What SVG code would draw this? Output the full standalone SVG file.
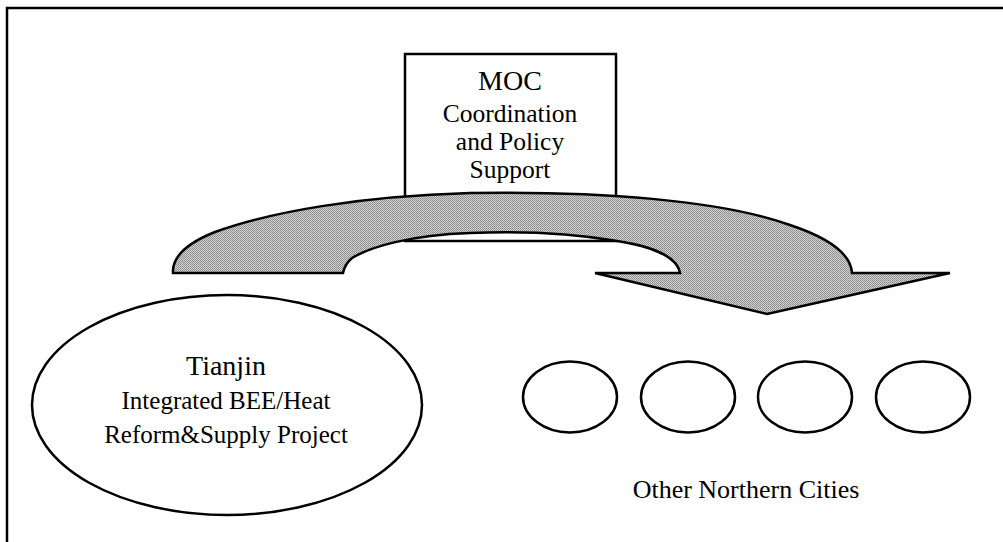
<svg xmlns="http://www.w3.org/2000/svg" width="1003" height="542" viewBox="0 0 1003 542">
<defs>
<pattern id="dither" patternUnits="userSpaceOnUse" width="2" height="2">
<rect width="2" height="2" fill="#cfcfcf"/>
<rect x="0" y="0" width="1" height="1" fill="#8a8a8a"/>
<rect x="1" y="1" width="1" height="1" fill="#9a9a9a"/>
</pattern>
<style>
.ln{fill:none;stroke:#000;stroke-width:2.5}
.nd{fill:#fff;stroke:#000;stroke-width:2.5}
.t{fill:#000;text-anchor:middle}
</style>
</defs>
<rect x="0" y="0" width="1003" height="542" fill="#fff"/>
<path id="frame" class="ln" d="M7,542 L7,8 L1003,8" stroke-width="3"/>
<g font-family="'Liberation Serif', 'Times New Roman', serif">
<g id="moc">
<rect class="nd" x="405" y="54" width="211" height="187"/>
<text class="t" x="510" y="90" font-size="28">MOC</text>
<text class="t" x="510" y="122" font-size="25.5">Coordination</text>
<text class="t" x="510" y="150" font-size="25.5">and Policy</text>
<text class="t" x="510" y="178" font-size="25.5">Support</text>
</g>
<g id="connectors">
<path fill="url(#dither)" stroke="#000" stroke-width="2.5" stroke-linejoin="miter" d="M173,273 C172,258 185,244 215,232 C270,212 360,196 470,193 C600,191 720,200 790,225 C835,240 851,256 852,273 L950,273 L767,314 L595,273 L680,273 C677,256 650,246 617,241 C570,233 520,231 470,233 C410,235 370,247 352,258 C346,263 344,268 343,273 Z"/>
</g>
<g id="tianjin">
<ellipse class="nd" cx="227" cy="405" rx="195" ry="110"/>
<text class="t" x="226" y="375" font-size="28">Tianjin</text>
<text class="t" x="226" y="409" font-size="25">Integrated BEE/Heat</text>
<text class="t" x="226" y="443" font-size="25">Reform&amp;Supply Project</text>
</g>
<g id="city1"><ellipse class="nd" cx="570" cy="397" rx="47" ry="35.5"/></g>
<g id="city2"><ellipse class="nd" cx="688" cy="397" rx="47" ry="35.5"/></g>
<g id="city3"><ellipse class="nd" cx="805" cy="397" rx="47" ry="35.5"/></g>
<g id="city4"><ellipse class="nd" cx="923" cy="397" rx="47" ry="35.5"/></g>
<g id="cities-label">
<text class="t" x="746" y="498" font-size="26">Other Northern Cities</text>
</g>
</g>
</svg>
